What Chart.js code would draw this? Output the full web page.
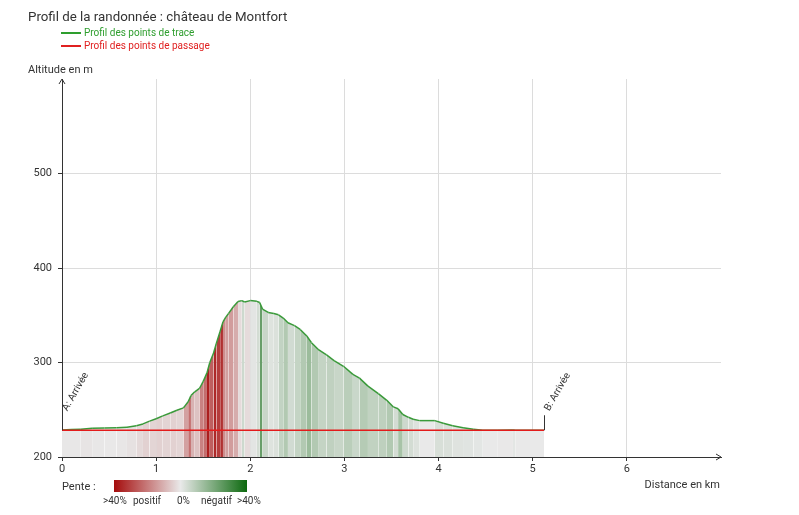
<!DOCTYPE html>
<html lang="fr">
<head>
<meta charset="utf-8">
<title>Profil de la randonnée : château de Montfort</title>
<script src="https://cdn.jsdelivr.net/npm/chart.js@4.4.1/dist/chart.umd.min.js"></script>
<style>
  html, body { margin: 0; padding: 0; background: #fff; }
  #wrap { position: relative; width: 799px; height: 515px; }
</style>
</head>
<body>
<div id="wrap"><canvas id="profil"></canvas></div>
<script>
// Profil des points de trace (distance en km / altitude en m)
const traceDist = [0.00, 0.10, 0.20, 0.32, 0.45, 0.58, 0.69, 0.79, 0.86, 0.93,
                   1.00, 1.07, 1.15, 1.22, 1.29, 1.34, 1.37, 1.41, 1.46, 1.50,
                   1.54, 1.57, 1.61, 1.64, 1.68, 1.71, 1.74, 1.77, 1.82, 1.87,
                   1.91, 1.94, 2.00, 2.07, 2.10, 2.13, 2.19, 2.25, 2.30, 2.35,
                   2.40, 2.47, 2.53, 2.60, 2.65, 2.72, 2.81, 2.89, 2.99, 3.09,
                   3.16, 3.25, 3.36, 3.45, 3.52, 3.57, 3.62, 3.68, 3.73, 3.80,
                   3.96, 4.05, 4.15, 4.26, 4.37, 4.47, 4.63, 4.79, 4.82, 5.12];
const traceAlt = [228.6, 229.0, 229.3, 230.4, 230.8, 231.0, 231.5, 233.0, 235.0, 238.0,
                  240.5, 243.5, 246.5, 249.5, 252.0, 258.5, 265.0, 269.0, 272.5, 280.0,
                  289.0, 300.0, 310.0, 320.5, 333.0, 343.0, 348.0, 352.0, 359.0, 364.5,
                  365.5, 364.0, 365.5, 364.7, 363.5, 356.5, 353.0, 351.8, 350.5, 347.0,
                  342.0, 339.0, 335.0, 328.0, 321.0, 314.0, 308.0, 302.0, 296.0, 287.5,
                  283.5, 275.0, 267.0, 260.0, 253.0, 251.0, 245.0, 242.0, 240.0, 238.5,
                  238.5, 235.7, 233.0, 231.0, 229.3, 228.3, 228.3, 228.6, 228.3, 228.3];

// Profil des points de passage
const passageDist = [0, 5.12];
const passageAlt = [228.3, 228.3];

// Points de passage annotés
const waypointNames = ['A: Arrivée', 'B: Arrivée'];
const waypointDist = [0, 5.12];
const waypointAlt = [228.3, 228.3];

// Graduations des axes
const xTicks = [0, 1, 2, 3, 4, 5, 6];
const yTicks = [200, 300, 400, 500];
const penteLabels = ['>40%', 'positif', '0%', 'négatif', '>40%'];

const FONT = 'Roboto, "Noto Sans", sans-serif';
const TEXT = '#333333';
const GRAY = [233, 233, 233];
const RED = [165, 12, 12];
const GREEN = [12, 105, 14];

function mix(a, b, t) {
    const c = a.map((v, i) => Math.round(v + (b[i] - v) * t));
    return `rgb(${c[0]}, ${c[1]}, ${c[2]})`;
}

// couleur de la bande selon la pente du segment
function slopeColor(p0, p1) {
    const pente = (p1.y - p0.y) / ((p1.x - p0.x) * 1000) * 100;
    const t = Math.min(Math.abs(pente) / 40, 1);
    return mix(GRAY, pente >= 0 ? RED : GREEN, t);
}

const tracePoints = traceDist.map((d, i) => ({ x: d, y: traceAlt[i] }));
const passagePoints = passageDist.map((d, i) => ({ x: d, y: passageAlt[i] }));

// titres, légendes, flèches et annotations
const decor = {
    id: 'decor',
    afterDraw(chart) {
        const ctx = chart.ctx;
        const xs = chart.scales.x;
        const ys = chart.scales.y;
        const area = chart.chartArea;
        ctx.save();

        ctx.fillStyle = TEXT;
        ctx.textBaseline = 'middle';
        ctx.textAlign = 'left';
        ctx.font = '13.3px ' + FONT;
        ctx.fillText('Profil de la randonnée : château de Montfort', 28, 18);

        // légende des profils
        const items = [
            { label: 'Profil des points de trace', color: '#2e9e2e', y: 33 },
            { label: 'Profil des points de passage', color: '#e02020', y: 46 }
        ];
        ctx.font = '10px ' + FONT;
        items.forEach(it => {
            ctx.strokeStyle = it.color;
            ctx.lineWidth = 2;
            ctx.beginPath();
            ctx.moveTo(61, it.y);
            ctx.lineTo(81, it.y);
            ctx.stroke();
            ctx.fillStyle = it.color;
            ctx.fillText(it.label, 84, it.y);
        });

        ctx.fillStyle = TEXT;
        ctx.font = '11px ' + FONT;
        ctx.fillText('Altitude en m', 28, 70);
        ctx.textAlign = 'right';
        ctx.fillText('Distance en km', 720, 485);

        // flèches des axes
        ctx.strokeStyle = TEXT;
        ctx.lineWidth = 1;
        ctx.beginPath();
        ctx.moveTo(area.left - 3, area.top + 5);
        ctx.lineTo(area.left, area.top);
        ctx.lineTo(area.left + 3, area.top + 5);
        ctx.moveTo(area.right - 5, area.bottom - 3);
        ctx.lineTo(area.right, area.bottom);
        ctx.lineTo(area.right - 5, area.bottom + 3);
        ctx.stroke();

        // annotations des points de passage
        ctx.font = '10px ' + FONT;
        ctx.textAlign = 'left';
        waypointNames.forEach((name, i) => {
            const px = xs.getPixelForValue(waypointDist[i]);
            const py = ys.getPixelForValue(waypointAlt[i]);
            ctx.strokeStyle = TEXT;
            ctx.beginPath();
            ctx.moveTo(px + 0.5, py);
            ctx.lineTo(px + 0.5, py - 15);
            ctx.stroke();
            ctx.save();
            ctx.translate(px + 3, py - 20);
            ctx.rotate(-Math.PI / 3);
            ctx.fillStyle = TEXT;
            ctx.fillText(name, 0, 0);
            ctx.restore();
        });

        // légende de la pente
        ctx.font = '11px ' + FONT;
        ctx.fillText('Pente :', 62, 487);
        const grad = ctx.createLinearGradient(114, 0, 247, 0);
        grad.addColorStop(0, mix(RED, RED, 0));
        grad.addColorStop(0.5, mix(GRAY, GRAY, 0));
        grad.addColorStop(1, mix(GREEN, GREEN, 0));
        ctx.fillStyle = grad;
        ctx.fillRect(114, 480, 133, 12);
        ctx.fillStyle = TEXT;
        ctx.font = '10px ' + FONT;
        const labelX = [103, 133, 177, 201, 237];
        penteLabels.forEach((t, i) => ctx.fillText(t, labelX[i], 501));

        ctx.restore();
    }
};

new Chart(document.getElementById('profil'), {
    type: 'line',
    data: {
        datasets: [
            {
                label: 'Profil des points de passage',
                data: passagePoints,
                borderColor: '#e31b1b',
                borderWidth: 1.5,
                pointRadius: 0,
                fill: false,
                order: 0
            },
            {
                label: 'Profil des points de trace',
                data: tracePoints,
                borderColor: '#3a9a3a',
                borderWidth: 1.5,
                backgroundColor: 'rgb(233, 233, 233)',
                pointRadius: 0,
                fill: 'start',
                order: 1,
                segment: {
                    backgroundColor: c => slopeColor(c.p0.parsed, c.p1.parsed)
                }
            }
        ]
    },
    options: {
        responsive: true,
        maintainAspectRatio: false,
        animation: false,
        layout: { padding: { top: 79, right: 78, bottom: 28, left: 0 } },
        plugins: {
            legend: { display: false },
            title: { display: false },
            tooltip: { enabled: false }
        },
        scales: {
            x: {
                type: 'linear',
                min: 0,
                max: 7,
                afterBuildTicks: s => { s.ticks = xTicks.map(v => ({ value: v })); },
                afterFit: s => { s.height = 30; },
                grid: { color: '#dcdcdc', tickColor: TEXT, tickLength: 4 },
                border: { color: TEXT, width: 1 },
                ticks: { color: TEXT, font: { family: FONT, size: 11 }, padding: 2, maxRotation: 0 }
            },
            y: {
                type: 'linear',
                min: 200,
                max: 600,
                afterBuildTicks: s => { s.ticks = yTicks.map(v => ({ value: v })); },
                afterFit: s => { s.width = 62; },
                grid: { color: '#dcdcdc', tickColor: TEXT, tickLength: 4 },
                border: { color: TEXT, width: 1 },
                ticks: { color: TEXT, font: { family: FONT, size: 11 }, padding: 6 }
            }
        }
    },
    plugins: [decor]
});
</script>
</body>
</html>
